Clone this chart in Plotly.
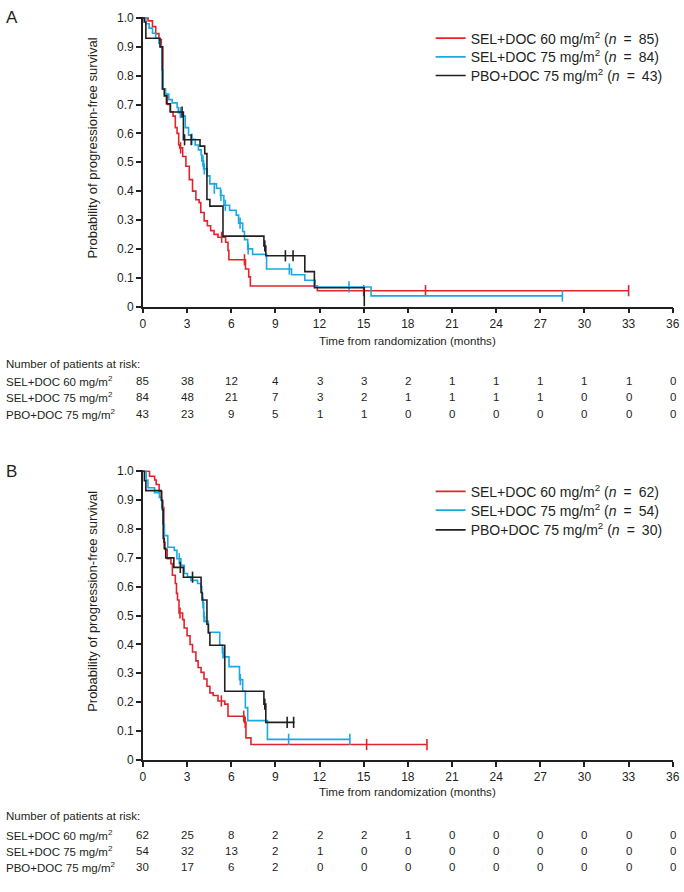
import plotly.graph_objects as go

W, H = 684, 892
FONT = "Liberation Sans, Arial, Helvetica, sans-serif"
INK = "#231f20"
RED = "#e3232c"
BLUE = "#1ba9e1"
BLACK = "#231f20"

MONTH_TICKS = list(range(0, 37, 3))
PROB_TICKS = [0, 0.1, 0.2, 0.3, 0.4, 0.5, 0.6, 0.7, 0.8, 0.9, 1.0]
PROB_LABELS = ["0", "0.1", "0.2", "0.3", "0.4", "0.5", "0.6", "0.7", "0.8", "0.9", "1.0"]

SERIES_NAMES = ["SEL+DOC 60 mg/m<sup>2</sup>", "SEL+DOC 75 mg/m<sup>2</sup>", "PBO+DOC 75 mg/m<sup>2</sup>"]
N_A = [85, 84, 43]
N_B = [62, 54, 30]

# ---------------- Panel A ----------------
A_RED_T = [0, 0.35, 0.65, 0.87, 1.09, 1.25, 1.35, 1.5, 1.65, 1.85, 2.05, 2.2, 2.32, 2.43, 2.5, 2.7, 2.92,
           3.15, 3.37, 3.6, 3.82, 3.93, 4.16, 4.38, 4.6, 4.83, 5.1, 5.62, 5.78, 5.84, 6.97, 7.19, 7.3, 11.85, 33.0]
A_RED_S = [1.0, 0.99, 0.97, 0.946, 0.925, 0.9, 0.754, 0.735, 0.7, 0.675, 0.66, 0.62, 0.6, 0.56, 0.55, 0.52, 0.486,
           0.44, 0.4, 0.37, 0.36, 0.326, 0.297, 0.28, 0.263, 0.25, 0.24, 0.223, 0.194, 0.162, 0.13, 0.103, 0.071, 0.055, 0.055]
A_RED_CT = [2.56, 5.35, 6.9, 15.0, 19.2, 33.0]
A_RED_CS = [0.55, 0.24, 0.162, 0.055, 0.055, 0.055]

A_BLUE_T = [0, 0.2, 0.42, 0.65, 0.87, 1.09, 1.2, 1.3, 1.38, 1.54, 1.76, 1.99, 2.32, 2.4, 2.66, 2.88, 3.1, 3.3,
            3.55, 3.77, 3.95, 4.0, 4.12, 4.37, 4.55, 5.0, 5.27, 5.5, 5.89, 6.34, 6.5, 6.78, 6.9, 7.12, 7.45,
            8.4, 10.1, 11.0, 11.7, 15.5, 28.5]
A_BLUE_S = [1.0, 0.98, 0.965, 0.947, 0.93, 0.913, 0.9, 0.82, 0.754, 0.736, 0.717, 0.706, 0.69, 0.672, 0.66, 0.62,
            0.594, 0.58, 0.56, 0.543, 0.526, 0.505, 0.477, 0.453, 0.425, 0.41, 0.385, 0.351, 0.334, 0.317, 0.289,
            0.26, 0.232, 0.2, 0.181, 0.13, 0.11, 0.091, 0.068, 0.037, 0.037]
A_BLUE_CT = [2.54, 3.33, 4.08, 4.17, 4.85, 5.3, 5.6, 6.6, 7.15, 9.95, 14.0, 28.5]
A_BLUE_CS = [0.672, 0.58, 0.505, 0.477, 0.41, 0.385, 0.351, 0.289, 0.2, 0.13, 0.068, 0.037]

A_BLACK_T = [0, 0.09, 0.2, 1.16, 1.32, 1.45, 1.6, 1.87, 2.75, 3.88, 4.2, 4.35, 4.55, 5.44, 8.22, 8.35, 11.0, 11.65, 15.04]
A_BLACK_S = [1.0, 0.986, 0.93, 0.9, 0.754, 0.73, 0.703, 0.674, 0.578, 0.556, 0.53, 0.371, 0.348, 0.244, 0.21,
             0.176, 0.121, 0.065, 0.0]
A_BLACK_CT = [2.66, 2.83, 3.28, 8.28, 9.68, 10.2]
A_BLACK_CS = [0.674, 0.578, 0.578, 0.21, 0.176, 0.176]

# ---------------- Panel B ----------------
B_RED_T = [0, 0.45, 0.8, 0.9, 1.1, 1.28, 1.35, 1.42, 1.5, 1.65, 1.9, 2.0, 2.2, 2.28, 2.35, 2.45, 2.7, 2.8, 3.0,
           3.2, 3.37, 3.6, 3.75, 3.95, 4.15, 4.35, 4.55, 4.77, 5.1, 5.56, 5.78, 6.9, 7.0, 7.34, 19.3]
B_RED_S = [1.0, 0.983, 0.97, 0.954, 0.93, 0.897, 0.874, 0.754, 0.73, 0.697, 0.68, 0.64, 0.611, 0.577, 0.554,
           0.509, 0.486, 0.457, 0.43, 0.4, 0.374, 0.343, 0.32, 0.303, 0.28, 0.255, 0.232, 0.223, 0.204, 0.193,
           0.151, 0.13, 0.076, 0.053, 0.053]
B_RED_CT = [2.52, 5.33, 6.85, 6.95, 15.2, 19.3]
B_RED_CS = [0.509, 0.204, 0.151, 0.13, 0.053, 0.053]

B_BLUE_T = [0, 0.22, 0.34, 0.79, 1.12, 1.28, 1.35, 1.46, 1.69, 2.13, 2.31, 2.58, 2.81, 3.03, 3.26, 3.71, 3.93,
            4.0, 4.06, 4.13, 4.2, 4.44, 5.22, 5.4, 5.5, 5.85, 6.56, 6.78, 6.96, 7.12, 8.46, 14.06]
B_BLUE_S = [1.0, 0.97, 0.943, 0.926, 0.909, 0.874, 0.817, 0.777, 0.737, 0.726, 0.697, 0.674, 0.646, 0.634, 0.622,
            0.611, 0.6, 0.577, 0.544, 0.495, 0.48, 0.442, 0.397, 0.371, 0.357, 0.323, 0.278, 0.238, 0.181, 0.136,
            0.071, 0.071]
B_BLUE_CT = [2.47, 4.08, 4.15, 5.44, 6.62, 9.9, 14.06]
B_BLUE_CS = [0.697, 0.544, 0.495, 0.371, 0.278, 0.071, 0.071]

B_BLACK_T = [0, 0.1, 0.2, 1.25, 1.32, 1.38, 1.45, 1.55, 2.1, 2.75, 3.95, 4.02, 4.35, 4.45, 4.55, 5.56, 8.22, 8.35, 10.3]
B_BLACK_S = [1.0, 0.967, 0.933, 0.9, 0.867, 0.767, 0.733, 0.7, 0.667, 0.633, 0.58, 0.554, 0.47, 0.44, 0.397,
             0.238, 0.193, 0.13, 0.13]
B_BLACK_CT = [2.54, 3.37, 8.28, 9.8, 10.24]
B_BLACK_CS = [0.667, 0.633, 0.193, 0.13, 0.13]

# ---------------- Numbers at risk ----------------
RISK_A = [
    [85, 38, 12, 4, 3, 3, 2, 1, 1, 1, 1, 1, 0],
    [84, 48, 21, 7, 3, 2, 1, 1, 1, 1, 0, 0, 0],
    [43, 23, 9, 5, 1, 1, 0, 0, 0, 0, 0, 0, 0],
]
RISK_B = [
    [62, 25, 8, 2, 2, 2, 1, 0, 0, 0, 0, 0, 0],
    [54, 32, 13, 2, 1, 0, 0, 0, 0, 0, 0, 0, 0],
    [30, 17, 6, 2, 0, 0, 0, 0, 0, 0, 0, 0, 0],
]


def py(px):
    return 1 - px / H


def px_x(px):
    return px / W


fig = go.Figure()

panels = [
    ("x", "y", ["legend", "legend2", "legend3"], N_A,
     [(A_RED_T, A_RED_S, A_RED_CT, A_RED_CS, RED),
      (A_BLUE_T, A_BLUE_S, A_BLUE_CT, A_BLUE_CS, BLUE),
      (A_BLACK_T, A_BLACK_S, A_BLACK_CT, A_BLACK_CS, BLACK)]),
    ("x2", "y2", ["legend4", "legend5", "legend6"], N_B,
     [(B_RED_T, B_RED_S, B_RED_CT, B_RED_CS, RED),
      (B_BLUE_T, B_BLUE_S, B_BLUE_CT, B_BLUE_CS, BLUE),
      (B_BLACK_T, B_BLACK_S, B_BLACK_CT, B_BLACK_CS, BLACK)]),
]

SP = "\u2002"
for xa, ya, lgs, ns, curves in panels:
    for i, (t, s, ct, cs, col) in enumerate(curves):
        fig.add_trace(go.Scatter(
            x=t, y=s, mode="lines", line=dict(color=col, width=1.6, shape="hv"),
            xaxis=xa, yaxis=ya, legend=lgs[i],
            name=f"{SERIES_NAMES[i]} (<i>n</i>{SP}={SP}{ns[i]})", showlegend=True))
        fig.add_trace(go.Scatter(
            x=ct, y=cs, mode="markers",
            marker=dict(symbol="line-ns", size=8, line=dict(color=col, width=1.6)),
            xaxis=xa, yaxis=ya, showlegend=False, cliponaxis=False))

axis_common = dict(showline=True, linecolor=INK, linewidth=1.6, ticks="outside", ticklen=5,
                   tickwidth=1.6, tickcolor=INK, showgrid=False, zeroline=False,
                   ticklabeloverflow="allow",
                   tickfont=dict(family=FONT, size=12, color=INK))

x_dom = [px_x(142), px_x(680)]
layout = dict(
    width=W, height=H, margin=dict(l=0, r=0, t=0, b=0),
    paper_bgcolor="white", plot_bgcolor="white",
    font=dict(family=FONT, color=INK, size=12),
    xaxis=dict(domain=x_dom, anchor="y", range=[0, 36.02], tickvals=MONTH_TICKS, **axis_common),
    yaxis=dict(domain=[py(305), py(11)], anchor="x", range=[0, 1.004], tickvals=PROB_TICKS,
               ticktext=PROB_LABELS, **axis_common),
    xaxis2=dict(domain=x_dom, anchor="y2", range=[0, 36.02], tickvals=MONTH_TICKS, **axis_common),
    yaxis2=dict(domain=[py(765), py(471)], anchor="x2", range=[0, 1.004], tickvals=PROB_TICKS,
                ticktext=PROB_LABELS, **axis_common),
)
legend_rows = [33, 52, 71, 493, 512, 532]
for k, ry in enumerate(legend_rows):
    key = "legend" if k == 0 else f"legend{k + 1}"
    layout[key] = dict(x=px_x(434), y=py(ry), xanchor="left", yanchor="middle",
                       bgcolor="rgba(0,0,0,0)", borderwidth=0,
                       font=dict(family=FONT, size=14, color=INK), itemwidth=30)
fig.update_layout(**layout)

ann = []
for label, top, xtitle_y, risk, hdr_y, rows_y in [
    ("A", 12, 339, RISK_A, 363, [381, 397, 414]),
    ("B", 472, 797, RISK_B, 822, [841, 858, 874]),
]:
    ann.append(dict(text=label, x=px_x(1), y=py(top), xref="paper", yref="paper", xanchor="left",
                    yanchor="middle", showarrow=False, font=dict(family=FONT, size=17, color=INK)))
    ann.append(dict(text="Probability of progression-free survival", x=px_x(91), y=py(top + 132),
                    xref="paper", yref="paper", textangle=-90, xanchor="center", yanchor="middle",
                    showarrow=False, font=dict(family=FONT, size=13, color=INK)))
    ann.append(dict(text="Time from randomization (months)", x=px_x(411), y=py(xtitle_y), xref="paper",
                    yref="paper", xanchor="center", yanchor="middle", showarrow=False,
                    font=dict(family=FONT, size=11.6, color=INK)))
    ann.append(dict(text="Number of patients at risk:", x=px_x(1), y=py(hdr_y), xref="paper", yref="paper",
                    xanchor="left", yanchor="middle", showarrow=False,
                    font=dict(family=FONT, size=11.5, color=INK)))
    xref = "x" if label == "A" else "x2"
    for r, row in enumerate(risk):
        ann.append(dict(text=SERIES_NAMES[r], x=px_x(1), y=py(rows_y[r]), xref="paper", yref="paper",
                        xanchor="left", yanchor="middle", showarrow=False,
                        font=dict(family=FONT, size=11.5, color=INK)))
        for m, v in zip(MONTH_TICKS, row):
            ann.append(dict(text=str(v), x=m, y=py(rows_y[r]), xref=xref, yref="paper",
                            xanchor="center", yanchor="middle", showarrow=False,
                            font=dict(family=FONT, size=11.5, color=INK)))

fig.update_layout(annotations=ann)
fig.write_html("out.html", config={"displayModeBar": False},
               post_script="document.body.style.margin='0';document.body.style.padding='0';"
                           "document.body.style.overflow='hidden';")
